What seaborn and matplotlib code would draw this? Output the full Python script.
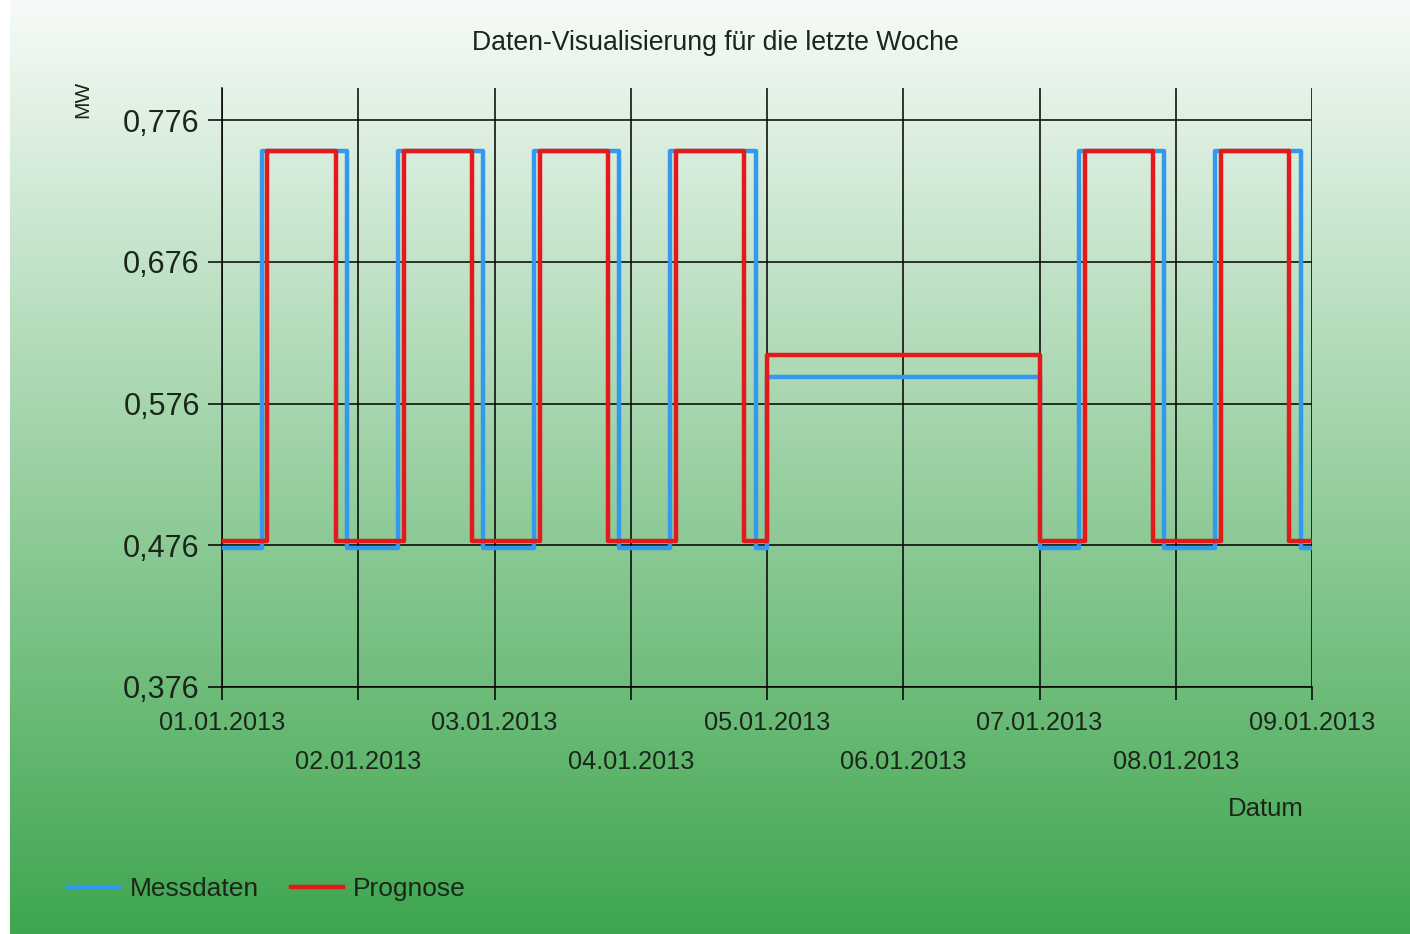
import numpy as np
import pandas as pd
import matplotlib
matplotlib.use("Agg")
import matplotlib.pyplot as plt
import seaborn as sns
from matplotlib import font_manager

# ---------------- data ----------------
series_names = ["Messdaten", "Prognose"]

# step change points: hours since 01.01.2013 00:00 and level from that hour on
mess_hours = [0, 7, 22, 31, 46, 55, 70, 79, 94, 96, 144, 151, 166, 175, 190, 192]
mess_values = [0.474, 0.754, 0.474, 0.754, 0.474, 0.754, 0.474, 0.754, 0.474,
               0.595, 0.474, 0.754, 0.474, 0.754, 0.474, 0.474]

prog_hours = [0, 8, 20, 32, 44, 56, 68, 80, 92, 96, 144, 152, 164, 176, 188, 192]
prog_values = [0.479, 0.754, 0.479, 0.754, 0.479, 0.754, 0.479, 0.754, 0.479,
               0.610, 0.479, 0.754, 0.479, 0.754, 0.479, 0.479]

major_day_hours = [0, 48, 96, 144, 192]
major_day_labels = ["01.01.2013", "03.01.2013", "05.01.2013", "07.01.2013", "09.01.2013"]
minor_day_hours = [24, 72, 120, 168]
minor_day_labels = ["02.01.2013", "04.01.2013", "06.01.2013", "08.01.2013"]

y_ticks = [0.376, 0.476, 0.576, 0.676, 0.776]
y_labels = ["0,376", "0,476", "0,576", "0,676", "0,776"]

title_text = "Daten-Visualisierung für die letzte Woche"
x_title = "Datum"
y_title = "MW"

# ---------------- fonts ----------------
available = {f.name for f in font_manager.fontManager.ttflist}
if "Liberation Sans Narrow" in available:
    FONT = "Liberation Sans Narrow"
    fs_title, fs_yt, fs_xt, fs_leg, fs_mw, fs_datum = 23, 25, 21.5, 23, 16, 22
else:
    FONT = "Liberation Sans"
    fs_title, fs_yt, fs_xt, fs_leg, fs_mw, fs_datum = 19.2, 22, 18.2, 19, 15, 18.5

plt.rcParams["font.family"] = [FONT, "DejaVu Sans"]
TEXT = "#1b261b"

# ---------------- figure ----------------
W, H = 1410, 934
fig = plt.figure(figsize=(W / 100, H / 100), dpi=100, facecolor="white")

# gradient background (white-ish top -> green bottom), with white strip at left
bg = fig.add_axes([10 / W, 0, 1 - 10 / W, 1], zorder=-10)
top = np.array([247, 251, 248]) / 255
bot = np.array([62, 166, 78]) / 255
t = np.linspace(0, 1, 512)[:, None, None]
grad = top[None, None, :] * (1 - t) + bot[None, None, :] * t
bg.imshow(grad, aspect="auto", extent=[0, 1, 0, 1], interpolation="bilinear")
bg.axis("off")

x0, x1 = 222, 1312
y_top, y_bot = 88, 687
ax = fig.add_axes([x0 / W, 1 - y_bot / H, (x1 - x0) / W, (y_bot - y_top) / H])
ax.patch.set_alpha(0)

df = pd.concat([
    pd.DataFrame({"Stunde": mess_hours, "Wert": mess_values, "Serie": series_names[0]}),
    pd.DataFrame({"Stunde": prog_hours, "Wert": prog_values, "Serie": series_names[1]}),
], ignore_index=True)

palette = {series_names[0]: "#3399ee", series_names[1]: "#e3191c"}
sns.lineplot(data=df, x="Stunde", y="Wert", hue="Serie", hue_order=series_names,
             palette=palette, drawstyle="steps-post", linewidth=3.2,
             estimator=None, legend=False, ax=ax, zorder=3)

y_per_px = 0.1 / 141.75
ax.set_xlim(0, 192)
ax.set_ylim(0.376, 0.376 + (y_bot - y_top) * y_per_px)

ax.set_xticks(major_day_hours, labels=major_day_labels)
ax.set_xticks(minor_day_hours, labels=minor_day_labels, minor=True)
ax.set_yticks(y_ticks, labels=y_labels)

ax.tick_params(axis="x", which="both", length=9.5, width=1.1, color="black",
               labelsize=fs_xt, labelcolor=TEXT, pad=8)
ax.tick_params(axis="x", which="minor", pad=36)
ax.tick_params(axis="y", which="major", length=10, width=1.1, color="black",
               labelsize=fs_yt, labelcolor=TEXT, pad=6)

ax.grid(True, axis="x", which="both", color="black", linewidth=1.1)
ax.grid(True, axis="y", which="major", color="black", linewidth=1.1)
ax.set_axisbelow(True)

for side in ["top", "right"]:
    ax.spines[side].set_visible(False)
for side in ["left", "bottom"]:
    ax.spines[side].set_color("black")
    ax.spines[side].set_linewidth(1.1)

ax.set_xlabel(x_title, fontsize=fs_datum, color=TEXT)
ax.xaxis.set_label_coords((1266 - x0) / (x1 - x0), (y_bot - 797) / (y_bot - y_top))
ax.set_ylabel(y_title, fontsize=fs_mw, color=TEXT)
ax.yaxis.set_label_coords((92 - x0) / (x1 - x0), (y_bot - 99) / (y_bot - y_top))

fig.text(715 / W, 1 - 43 / H, title_text, ha="center", va="center",
         fontsize=fs_title, color=TEXT)

handles = ax.get_lines()[:2]
fig.legend(handles=handles, labels=series_names, loc="center left",
           bbox_to_anchor=(68 / W, 1 - 889 / H), frameon=False, ncol=2,
           fontsize=fs_leg, labelcolor=TEXT, borderaxespad=0, borderpad=0,
           handlelength=1.97, handletextpad=0.38, columnspacing=1.2)

fig.savefig("out.png", dpi=100, facecolor=fig.get_facecolor())
